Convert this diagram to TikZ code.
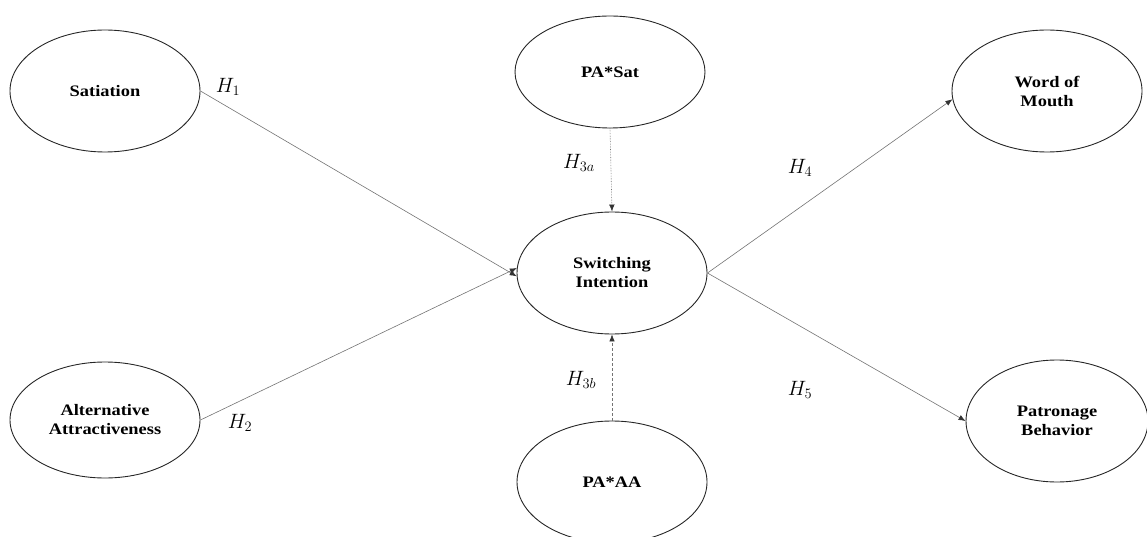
\documentclass[tikz,border=0pt]{standalone}
\usepackage{fontspec}
\setmainfont{Liberation Serif}[FakeStretch=1.15]
\usetikzlibrary{shapes.geometric,arrows.meta}
\tikzset{
  latent/.style={ellipse,draw=black!85,line width=0.9pt,minimum width=190pt,minimum height=122pt,inner sep=0pt,
    align=center,font=\fontsize{16}{19}\selectfont\bfseries},
  path/.style={draw=black!55,line width=0.6pt,-{Latex[length=7pt,width=5.5pt,black!80]}},
  hyp/.style={font=\fontsize{22}{22}\selectfont}
}
\begin{document}
\begin{tikzpicture}[x=1pt,y=-1pt]
\useasboundingbox (0,0) rectangle (1147,537);
\node[latent] (sat) at (105,91) {Satiation};
\node[latent,minimum height=116pt] (alt) at (105,420) {Alternative\\Attractiveness};
\node[latent,minimum height=112pt] (pas) at (610,72) {PA*Sat};
\node[latent] (si) at (612,273) {Switching\\Intention};
\node[latent] (paa) at (612,482) {PA*AA};
\node[latent] (wom) at (1047,91) {Word of\\Mouth};
\node[latent,minimum width=182pt] (pb) at (1057,421) {Patronage\\Behavior};

\path[path] (sat.east) -- (si.182);
\path[path] (alt.east) -- (si.177);
\path[path] (si.east) -- (wom.185);
\path[path] (si.east) -- (pb.west);
\path[path,densely dotted] (pas.south) -- (si.north);
\path[path,dash pattern=on 3pt off 2pt] (paa.north) -- (si.south);

\node[hyp] (h1) at (228,87) {$H_1$};
\node[hyp] (h2) at (240,423) {$H_2$};
\node[hyp] (h3a) at (579,163) {$H_{3a}$};
\node[hyp] (h3b) at (581,380) {$H_{3b}$};
\node[hyp] (h4) at (800,168) {$H_4$};
\node[hyp] (h5) at (800,390) {$H_5$};
\end{tikzpicture}
\end{document}
